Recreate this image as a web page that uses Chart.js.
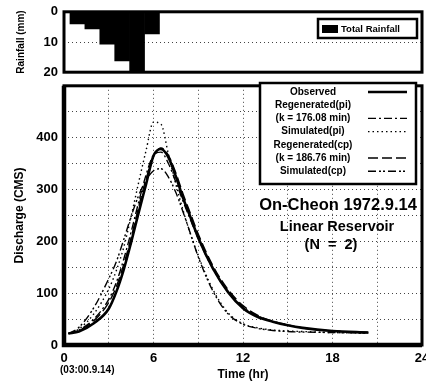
<!DOCTYPE html>
<html>
<head>
<meta charset="utf-8">
<script src="https://cdn.jsdelivr.net/npm/chart.js@4.4.1/dist/chart.umd.min.js"></script>
<style>
  html, body { margin: 0; padding: 0; background: #fff; overflow: hidden; }
  body { width: 426px; height: 382px; position: relative; }
  #rainWrap { position: absolute; left: 0; top: -2px; width: 440px; height: 88px; }
  #flowWrap { position: absolute; left: 0; top: 72px; width: 440px; height: 310px; }
</style>
</head>
<body>
<div id="rainWrap"><canvas id="rainChart"></canvas></div>
<div id="flowWrap"><canvas id="flowChart"></canvas></div>
<script>
"use strict";

// rainfall hyetograph (hour centres, mm)
const rainHours = [0.9, 1.9, 2.9, 3.9, 4.9, 5.9];
const rainfall = [4, 5.7, 10.7, 16.3, 20, 7.3];
const rainTickLabels = [0, 10, 20];

// discharge hydrographs (hr, CMS)
const times = [0.3, 1, 2, 3, 3.5, 4, 4.5, 5, 5.5, 6, 6.5, 7, 7.5, 8, 8.5, 9, 10, 11, 12, 13, 14, 15, 16, 18, 20.4];
const observed = [22, 26, 42, 70, 102, 145, 198, 255, 310, 365, 378, 362, 325, 282, 245, 207, 147, 102, 71, 54, 45, 38, 33, 27, 24];
const regenPi = [22, 29, 50, 88, 120, 165, 218, 275, 328, 366, 372, 350, 314, 276, 240, 205, 146, 103, 73, 56, 45, 38, 33, 27, 24];
const simPi = [22, 31, 60, 108, 143, 188, 248, 313, 375, 430, 426, 368, 310, 258, 212, 172, 106, 62, 41, 33, 29, 27, 26, 24, 23];
const regenCp = [22, 28, 47, 82, 112, 155, 207, 266, 320, 363, 380, 366, 332, 290, 252, 214, 152, 107, 76, 57, 46, 39, 33, 27, 24];
const simCp = [22, 34, 72, 128, 160, 203, 248, 288, 318, 336, 340, 324, 294, 255, 213, 170, 103, 60, 40, 32, 28, 26, 25, 24, 23];
const timeTickLabels = [0, 6, 12, 18, 24];
const flowTickLabels = [0, 100, 200, 300, 400];

const legendLabels = [
  ["Observed"],
  ["Regenerated(pi)", "(k = 176.08 min)"],
  ["Simulated(pi)"],
  ["Regenerated(cp)", "(k = 186.76 min)"],
  ["Simulated(cp)"],
];

const FONT = '"Liberation Sans", Arial, sans-serif';
Chart.defaults.font.family = FONT;
Chart.defaults.font.weight = "bold";
Chart.defaults.color = "#000";

function toPoints(values) {
  return values.map((v, i) => ({ x: times[i], y: v }));
}

// thick box round the plot area
const framePlugin = {
  id: "frame",
  afterDraw(chart, args, opts) {
    const { ctx, chartArea: a } = chart;
    ctx.save();
    ctx.strokeStyle = "#000";
    ctx.lineWidth = opts.width;
    ctx.strokeRect(a.left, a.top, a.right - a.left, a.bottom - a.top);
    if (opts.heavy) {
      ctx.lineWidth = 4.5;
      ctx.beginPath();
      ctx.moveTo(a.left, a.top);
      ctx.lineTo(a.left, a.bottom);
      ctx.lineTo(a.right, a.bottom);
      ctx.stroke();
    }
    ctx.restore();
  },
};

// boxed legend + free text drawn on the canvas
const notesPlugin = {
  id: "notes",
  afterDraw(chart, args, opts) {
    const ctx = chart.ctx;
    ctx.save();
    ctx.fillStyle = "#000";
    ctx.strokeStyle = "#000";
    if (opts.box) {
      const b = opts.box;
      ctx.fillStyle = "#fff";
      ctx.fillRect(b.x, b.y, b.w, b.h);
      ctx.fillStyle = "#000";
      ctx.lineWidth = b.lineWidth;
      ctx.strokeRect(b.x, b.y, b.w, b.h);
    }
    if (opts.entries) {
      const e = opts.entries;
      ctx.font = `bold ${e.size}px ${FONT}`;
      ctx.textAlign = "center";
      ctx.textBaseline = "middle";
      let row = 0;
      chart.data.datasets.forEach((ds, i) => {
        const lines = legendLabels[i];
        lines.forEach((t) => {
          ctx.fillText(t, e.textX, e.y0 + row * e.step);
          row++;
        });
        const y = e.y0 + (row - 1) * e.step;
        ctx.save();
        ctx.lineWidth = ds.borderWidth;
        ctx.setLineDash(ds.borderDash || []);
        ctx.beginPath();
        ctx.moveTo(e.lineX0, y);
        ctx.lineTo(e.lineX1, y);
        ctx.stroke();
        ctx.restore();
      });
    }
    if (opts.swatch) {
      const s = opts.swatch;
      ctx.fillRect(s.x, s.y, s.w, s.h);
      ctx.font = `bold ${s.size}px ${FONT}`;
      ctx.textAlign = "left";
      ctx.textBaseline = "middle";
      ctx.fillText(chart.data.datasets[0].label, s.x + s.w + 3, s.y + s.h / 2);
    }
    (opts.texts || []).forEach((t) => {
      ctx.font = `bold ${t.size}px ${FONT}`;
      ctx.textAlign = t.align || "center";
      ctx.textBaseline = "middle";
      ctx.fillText(t.text, t.x, t.y);
    });
    ctx.restore();
  },
};

const dotted = { display: false, dash: [1, 3] };

new Chart(document.getElementById("rainChart"), {
  type: "bar",
  data: {
    datasets: [
      {
        label: "Total Rainfall",
        data: rainfall.map((v, i) => ({ x: rainHours[i], y: v })),
        backgroundColor: "#000",
        borderWidth: 0,
        barPercentage: 1,
        categoryPercentage: 1,
      },
    ],
  },
  options: {
    responsive: true,
    maintainAspectRatio: false,
    animation: false,
    layout: { padding: { top: 9, right: 18, bottom: 2, left: 0 } },
    plugins: {
      legend: { display: false },
      tooltip: { enabled: false },
      frame: { width: 3 },
      notes: {
        box: { x: 318, y: 21, w: 99, h: 19, lineWidth: 2.5 },
        swatch: { x: 322, y: 27, w: 16, h: 8, size: 9.5 },
      },
    },
    scales: {
      x: { type: "linear", min: 0, max: 24, offset: false, display: false },
      y: {
        reverse: true,
        min: 0,
        max: 20,
        afterFit(scale) { scale.width = 64; },
        border: dotted,
        grid: { color: "#444", drawTicks: false, lineWidth: 1 },
        ticks: {
          stepSize: 5,
          padding: 6,
          font: { size: 13 },
          callback: (v) => (rainTickLabels.includes(v) ? String(v) : ""),
        },
        title: { display: true, text: "Rainfall (mm)", font: { size: 10 }, padding: { top: 15, bottom: 0 } },
      },
    },
  },
  plugins: [framePlugin, notesPlugin],
});

new Chart(document.getElementById("flowChart"), {
  type: "line",
  data: {
    datasets: [
      { label: "Observed", data: toPoints(observed), borderWidth: 2.6 },
      { label: "Regenerated(pi)", data: toPoints(regenPi), borderWidth: 1.4, borderDash: [8, 3, 2, 3] },
      { label: "Simulated(pi)", data: toPoints(simPi), borderWidth: 1.4, borderDash: [1.5, 3] },
      { label: "Regenerated(cp)", data: toPoints(regenCp), borderWidth: 1.4, borderDash: [10, 4] },
      { label: "Simulated(cp)", data: toPoints(simCp), borderWidth: 1.4, borderDash: [8, 3, 2, 2, 2, 3] },
    ],
  },
  options: {
    responsive: true,
    maintainAspectRatio: false,
    animation: false,
    layout: { padding: { top: 1, right: 18, bottom: 0, left: 0 } },
    elements: {
      line: { borderColor: "#000", cubicInterpolationMode: "monotone" },
      point: { radius: 0 },
    },
    plugins: {
      legend: { display: false },
      tooltip: { enabled: false },
      frame: { width: 3, heavy: true },
      notes: {
        box: { x: 260, y: 11, w: 156, h: 101, lineWidth: 2.5 },
        entries: { size: 10, textX: 313, y0: 20, step: 13.2, lineX0: 368, lineX1: 407 },
        texts: [
          { text: "On-Cheon 1972.9.14", x: 338, y: 133, size: 16.5 },
          { text: "Linear Reservoir", x: 337, y: 155, size: 14.5 },
          { text: "(N  =  2)", x: 331, y: 173, size: 14.5 },
          { text: "(03:00.9.14)", x: 60, y: 298, size: 10, align: "left" },
        ],
      },
    },
    scales: {
      x: {
        type: "linear",
        min: 0,
        max: 24,
        afterFit(scale) { scale.height = 37; },
        border: dotted,
        grid: { color: "#444", drawTicks: false },
        ticks: {
          stepSize: 3,
          padding: 6,
          maxRotation: 0,
          autoSkip: false,
          font: { size: 13 },
          callback: (v) => (timeTickLabels.includes(v) ? String(v) : ""),
        },
        title: { display: true, text: "Time (hr)", font: { size: 12 }, padding: 0 },
      },
      y: {
        min: 0,
        max: 500,
        afterFit(scale) { scale.width = 64; },
        border: dotted,
        grid: { color: "#444", drawTicks: false },
        ticks: {
          stepSize: 50,
          padding: 6,
          font: { size: 13 },
          callback: (v) => (flowTickLabels.includes(v) ? String(v) : ""),
        },
        title: { display: true, text: "Discharge (CMS)", font: { size: 12 }, padding: { top: 12, bottom: 0 } },
      },
    },
  },
  plugins: [framePlugin, notesPlugin],
});
</script>
</body>
</html>
